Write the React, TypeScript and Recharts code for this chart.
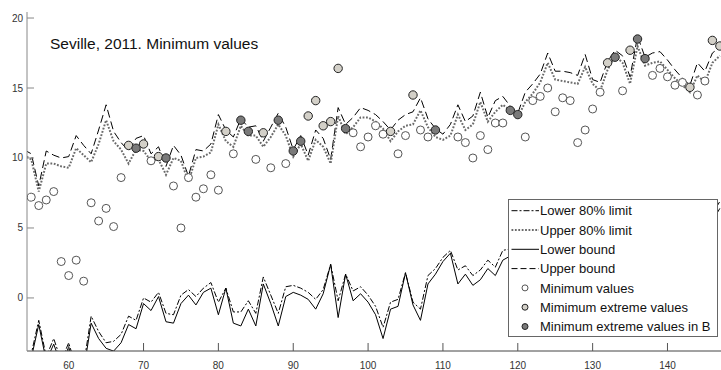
import React from 'react';
import { ComposedChart, Line, Scatter, XAxis, YAxis, Legend } from 'recharts';

const days = [
  54, 55, 56, 57, 58, 59, 60, 61, 62, 63,
  64, 65, 66, 67, 68, 69, 70, 71, 72, 73,
  74, 75, 76, 77, 78, 79, 80, 81, 82, 83,
  84, 85, 86, 87, 88, 89, 90, 91, 92, 93,
  94, 95, 96, 97, 98, 99, 100, 101, 102, 103,
  104, 105, 106, 107, 108, 109, 110, 111, 112, 113,
  114, 115, 116, 117, 118, 119, 120, 121, 122, 123,
  124, 125, 126, 127, 128, 129, 130, 131, 132, 133,
  134, 135, 136, 137, 138, 139, 140, 141, 142, 143,
  144, 145, 146, 147,
];

const upperBound = [
  10.6, 10.3, 8.0, 10.5, 10.2, 10.0, 10.1, 11.6, 10.9, 10.3,
  12.0, 13.8, 11.9, 11.1, 10.5, 11.4, 11.6, 10.3, 10.8, 9.4,
  10.9, 10.2, 8.7, 10.6, 10.5, 11.0, 13.1, 12.0, 11.5, 12.8,
  12.2, 12.3, 11.2, 12.2, 13.2, 12.2, 10.6, 11.6, 10.2, 12.0,
  11.4, 9.9, 13.6, 12.4, 12.9, 13.6, 13.4, 13.1, 12.6, 12.0,
  12.7, 13.1, 13.3, 14.3, 12.8, 12.1, 11.7, 12.4, 13.8, 12.6,
  13.0, 14.7, 12.9, 14.1, 14.4, 13.7, 13.2, 14.7, 15.3, 16.0,
  17.5, 16.2, 16.2, 16.1, 15.9, 17.4, 15.6, 15.4, 16.9, 17.7,
  17.3, 15.8, 18.7, 17.2, 17.5, 17.6, 17.0, 16.3, 15.7, 15.2,
  16.8, 16.2, 17.5, 17.9,
];

const upper80 = [
  10.2, 9.9, 7.6, 9.6, 9.6, 9.4, 9.3, 10.7, 10.2, 9.7,
  11.0, 12.7, 11.2, 10.6, 9.6, 10.6, 10.5, 9.8, 9.9, 8.8,
  10.0, 9.8, 8.3, 10.0, 10.1, 10.4, 12.4, 11.2, 10.8, 12.3,
  11.6, 11.6, 10.8, 11.5, 12.4, 11.6, 10.1, 11.0, 9.8, 11.3,
  10.8, 9.6, 13.0, 11.7, 12.2, 12.9, 12.9, 12.6, 12.1, 11.2,
  11.9, 12.3, 12.4, 13.4, 12.2, 11.5, 11.3, 11.6, 13.1, 12.0,
  12.4, 14.0, 12.6, 13.3, 13.8, 13.4, 12.9, 14.0, 14.6, 15.4,
  16.8, 15.6, 15.5, 15.4, 15.3, 16.5, 15.3, 14.8, 16.3, 17.3,
  16.8, 15.3, 18.0, 16.6, 16.8, 16.9, 16.3, 15.7, 15.2, 14.7,
  15.9, 15.4, 16.8, 17.3,
];

const lower80 = [
  -5.0, -4.0, -1.6, -4.2, -2.9, -4.5, -3.2, -5.0, -4.8, -1.3,
  -2.4, -3.2, -3.1, -2.6, -1.3, -1.6, 0.0, -0.3, 0.4, -1.1,
  -1.2, 0.2, 0.6, 0.1, 0.7, 1.1, -0.3, 0.7, -1.0, -1.0,
  -0.2, -1.1, 1.5, 0.2, -1.1, 0.8, 0.9, 0.7, 0.4, -0.1,
  0.6, 2.4, -0.2, 1.7, 0.5, 0.8, 0.2, -0.6, -2.1, -0.3,
  -0.1, 1.8, -0.3, -0.8, 1.6, 2.1, 2.9, 3.4, 2.0, 2.3,
  1.6, 2.0, 2.7, 2.2, 3.4, 3.5, 3.0, 3.8, 3.5, 4.2,
  4.9, 4.0, 4.1, 4.0, 3.9, 5.1, 3.9, 3.8, 4.9, 5.5,
  5.3, 4.1, 6.3, 5.2, 5.4, 5.5, 5.0, 4.5, 4.0, 3.7,
  4.9, 4.4, 6.0, 6.9,
];

const lowerBound = [
  -5.4, -4.3, -1.9, -4.5, -3.3, -4.8, -3.5, -5.4, -5.2, -1.8,
  -2.9, -3.6, -3.8, -3.2, -1.9, -2.2, -0.4, -0.9, 0.1, -1.7,
  -1.8, -0.4, 0.2, -0.5, 0.4, 0.7, -1.2, 0.7, -1.8, -2.0,
  -0.8, -2.0, 1.0, -0.4, -2.0, 0.1, 0.4, 0.2, -0.1, -0.8,
  0.3, 2.4, -1.4, 1.7, -0.2, 0.3, -0.3, -1.2, -2.9, -0.8,
  -0.6, 1.8, -0.5, -1.6, 1.0, 1.7, 2.6, 3.2, 1.0, 1.7,
  0.9, 1.3, 2.1, 1.6, 2.7, 3.0, 2.6, 3.3, 3.0, 3.7,
  4.4, 3.5, 3.6, 3.5, 3.4, 4.6, 3.3, 3.2, 4.5, 5.1,
  4.8, 3.6, 5.8, 4.7, 4.9, 5.0, 4.4, 3.9, 3.5, 3.2,
  4.3, 3.8, 5.5, 6.4,
];

const minDays = [
  55, 56, 57, 58, 59, 60, 61, 62, 63, 64, 65, 66, 67, 71, 74, 75, 76, 77, 78, 79,
  80, 82, 85, 87, 89, 98, 99, 100, 101, 102, 104, 105, 107, 108, 112, 113, 114, 115, 116, 117,
  118, 121, 122, 123, 124, 125, 126, 127, 128, 129, 130, 131, 134, 138, 139, 140, 141, 142, 144, 145,
];
const minValues = [
  7.2, 6.6, 7.0, 7.6, 2.6, 1.6, 2.7, 1.2, 6.8, 5.5, 6.4, 5.1, 8.6, 9.8, 8.0, 5.0, 8.6, 7.2, 7.8, 8.8,
  7.7, 10.3, 9.9, 9.3, 9.6, 11.8, 10.8, 11.5, 12.3, 11.7, 10.3, 11.6, 12.0, 11.5, 11.5, 11.1, 10.0, 11.6, 10.6, 12.5,
  12.5, 11.5, 14.1, 14.4, 15.0, 13.3, 14.3, 14.1, 11.1, 12.0, 13.5, 14.7, 14.8, 15.9, 16.4, 15.8, 15.2, 15.4, 14.5, 15.5,
];

const extremeDays = [68, 70, 72, 81, 86, 92, 93, 94, 95, 96, 103, 106, 132, 135, 143, 146, 147];
const extremeValues = [10.9, 11.0, 10.1, 11.9, 11.8, 13.0, 14.1, 12.3, 12.6, 16.4, 11.9, 14.5, 16.8, 17.7, 15.05, 18.4, 18.0];

const extremeBDays = [69, 73, 83, 84, 88, 90, 91, 97, 109, 119, 120, 133, 136, 137];
const extremeBValues = [10.7, 10.0, 12.7, 11.9, 12.7, 10.5, 11.2, 12.1, 12.0, 13.4, 13.1, 17.2, 18.5, 17.1];

const xTicks = [60, 70, 80, 90, 100, 110, 120, 130, 140];
const yTicks = [0, 5, 10, 15, 20];

const titleText = 'Seville, 2011. Minimum values';
const legendLabels = [
  'Lower 80% limit',
  'Upper 80% limit',
  'Lower bound',
  'Upper bound',
  'Minimum values',
  'Mimimum extreme values',
  'Minimum extreme values in B',
];

const FONT = '"Liberation Sans", Arial, Helvetica, sans-serif';

const tableData = days.map((x, i) => ({
  x,
  ub: upperBound[i],
  u80: upper80[i],
  l80: lower80[i],
  lb: lowerBound[i],
}));
const minData = minDays.map((x, i) => ({ x, y: minValues[i] }));
const extremeData = extremeDays.map((x, i) => ({ x, y: extremeValues[i] }));
const extremeBData = extremeBDays.map((x, i) => ({ x, y: extremeBValues[i] }));

const OPEN_FILL = '#ffffff';
const OPEN_STROKE = '#555555';
const LIGHT_FILL = '#d3d0c8';
const DARK_FILL = '#7a7a7a';
const DOT_STROKE = '#6a6a6a';

const YTick = (props: any) => {
  const { x, y, payload } = props;
  return (
    <g>
      <line x1={x} x2={x + 7} y1={y} y2={y} stroke="#888" strokeWidth={1} />
      <text x={x - 4} y={y + 3.5} textAnchor="end" fontSize={10} fill="#333" fontFamily={FONT}>
        {payload.value}
      </text>
    </g>
  );
};

const XTickBottom = (props: any) => {
  const { x, y, payload } = props;
  return (
    <g>
      <line x1={x} x2={x} y1={y} y2={y - 8} stroke="#555" strokeWidth={1} />
      <text x={x} y={y + 17.5} textAnchor="middle" fontSize={10} fill="#333" fontFamily={FONT}>
        {payload.value}
      </text>
    </g>
  );
};

const XTickTop = (props: any) => {
  const { x, y } = props;
  return <line x1={x} x2={x} y1={y} y2={y + 8} stroke="#555" strokeWidth={1} />;
};

const openShape = (p: any) => (
  <circle cx={p.cx} cy={p.cy} r={4} fill={OPEN_FILL} stroke={OPEN_STROKE} strokeWidth={1} />
);
const lightShape = (p: any) => (
  <circle cx={p.cx} cy={p.cy} r={4.2} fill={LIGHT_FILL} stroke="#222" strokeWidth={1} />
);
const darkShape = (p: any) => (
  <circle cx={p.cx} cy={p.cy} r={4.2} fill={DARK_FILL} stroke="#222" strokeWidth={1} />
);

const LegendBox = () => {
  const rowY = (i: number) => 11.7 + i * 19.3;
  const x1 = 3.5;
  const x2 = 31;
  const tx = 32;
  return (
    <svg width={211} height={139} style={{ display: 'block' }}>
      <rect x={0.5} y={0.5} width={209} height={137} fill="#fff" stroke="#666" strokeWidth={1} />
      <line x1={x1} x2={x2} y1={rowY(0)} y2={rowY(0)} stroke="#000" strokeDasharray="6 2 2 2" />
      <line x1={x1} x2={x2} y1={rowY(1)} y2={rowY(1)} stroke={DOT_STROKE} strokeWidth={2} strokeDasharray="1.8 1.6" />
      <line x1={x1} x2={x2} y1={rowY(2)} y2={rowY(2)} stroke="#000" />
      <line x1={x1} x2={x2} y1={rowY(3)} y2={rowY(3)} stroke="#000" strokeDasharray="6 3" />
      <circle cx={17} cy={rowY(4)} r={3} fill={OPEN_FILL} stroke={OPEN_STROKE} />
      <circle cx={17} cy={rowY(5)} r={3} fill={LIGHT_FILL} stroke="#222" />
      <circle cx={17} cy={rowY(6)} r={3} fill={DARK_FILL} stroke="#222" />
      {legendLabels.map((t, i) => (
        <text key={t} x={tx} y={rowY(i) + 4.6} fontSize={13} fill="#111" fontFamily={FONT}>
          {t}
        </text>
      ))}
    </svg>
  );
};

export default function App() {
  return (
    <div style={{ position: 'absolute', left: 0, top: 0, width: 721, height: 370, background: '#fff' }}>
      <ComposedChart
        width={721}
        height={370}
        data={tableData}
        margin={{ top: 12, right: 0, bottom: 0, left: 0 }}
      >
        <XAxis
          dataKey="x"
          type="number"
          domain={[54.43, 147.15]}
          allowDataOverflow
          ticks={xTicks}
          height={19}
          tickSize={0}
          tickMargin={0}
          tickLine={false}
          axisLine={{ stroke: '#444' }}
          tick={XTickBottom}
          interval={0}
        />
        <XAxis
          xAxisId="top"
          orientation="top"
          dataKey="x"
          type="number"
          domain={[54.43, 147.15]}
          allowDataOverflow
          ticks={xTicks}
          height={0}
          tickSize={0}
          tickMargin={0}
          tickLine={false}
          axisLine={{ stroke: '#333' }}
          tick={XTickTop}
          interval={0}
        />
        <YAxis
          type="number"
          domain={[-3.79, 20.43]}
          allowDataOverflow
          ticks={yTicks}
          width={27}
          tickSize={0}
          tickMargin={0}
          tickLine={false}
          axisLine={{ stroke: '#888' }}
          tick={YTick}
          interval={0}
        />
        <Line dataKey="ub" stroke="#000" strokeWidth={1} strokeDasharray="8 4" dot={false} activeDot={false} isAnimationActive={false} />
        <Line dataKey="u80" stroke={DOT_STROKE} strokeWidth={2} strokeDasharray="1.8 1.6" dot={false} activeDot={false} isAnimationActive={false} />
        <Line dataKey="lb" stroke="#000" strokeWidth={1} dot={false} activeDot={false} isAnimationActive={false} />
        <Line dataKey="l80" stroke="#000" strokeWidth={1} strokeDasharray="6 2 2 2" dot={false} activeDot={false} isAnimationActive={false} />
        <Scatter data={minData} dataKey="y" shape={openShape} isAnimationActive={false} />
        <Scatter data={extremeData} dataKey="y" shape={lightShape} isAnimationActive={false} />
        <Scatter data={extremeBData} dataKey="y" shape={darkShape} isAnimationActive={false} />
        <Legend
          layout="vertical"
          align="center"
          verticalAlign="middle"
          content={() => <LegendBox />}
          wrapperStyle={{ left: 508, top: 199, width: 211, height: 139 }}
        />
      </ComposedChart>
      <div
        style={{
          position: 'absolute',
          left: 50,
          top: 35,
          fontFamily: FONT,
          fontSize: 15.5,
          lineHeight: '17px',
          color: '#111',
          whiteSpace: 'nowrap',
        }}
      >
        {titleText}
      </div>
    </div>
  );
}
